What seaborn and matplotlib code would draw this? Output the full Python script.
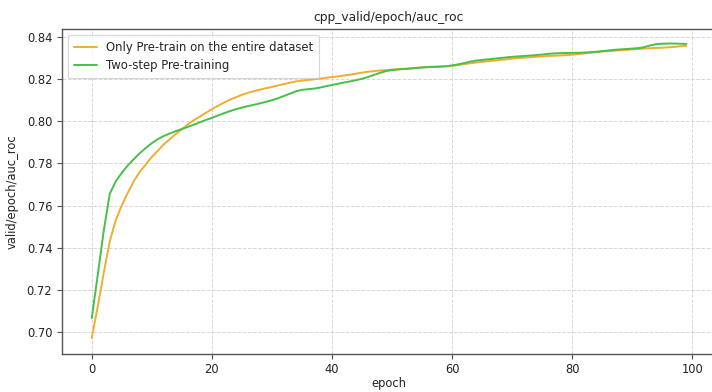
import numpy as np
import pandas as pd
import matplotlib
matplotlib.use("Agg")
import matplotlib.pyplot as plt
import seaborn as sns

# Validation AUC-ROC per epoch for the two pre-training schemes
epochs = list(range(100))

only_pretrain = [
    0.6970, 0.7120, 0.7280, 0.7430, 0.7530, 0.7600, 0.7660, 0.7715, 0.7760, 0.7795,
    0.7830, 0.7860, 0.7890, 0.7915, 0.7940, 0.7962, 0.7985, 0.8005, 0.8022, 0.8040,
    0.8057, 0.8073, 0.8088, 0.8102, 0.8114, 0.8125, 0.8135, 0.8143, 0.8150, 0.8157,
    0.8163, 0.8170, 0.8176, 0.8183, 0.8189, 0.8193, 0.8196, 0.8199, 0.8202, 0.8206,
    0.8210, 0.8213, 0.8217, 0.8221, 0.8226, 0.8231, 0.8235, 0.8238, 0.8241, 0.8243,
    0.8245, 0.8247, 0.8249, 0.8251, 0.8253, 0.8256, 0.8258, 0.8259, 0.8260, 0.8261,
    0.8263, 0.8267, 0.8271, 0.8275, 0.8279, 0.8282, 0.8285, 0.8288, 0.8291, 0.8294,
    0.8297, 0.8300, 0.8302, 0.8304, 0.8306, 0.8308, 0.8310, 0.8311, 0.8312, 0.8314,
    0.8316, 0.8319, 0.8322, 0.8325, 0.8328, 0.8331, 0.8333, 0.8335, 0.8337, 0.8339,
    0.8341, 0.8343, 0.8345, 0.8347, 0.8348, 0.8349, 0.8351, 0.8353, 0.8356, 0.8358,
]

two_step = [
    0.7065, 0.7270, 0.7480, 0.7655, 0.7715, 0.7755, 0.7790, 0.7820, 0.7848, 0.7873,
    0.7896, 0.7915, 0.7930, 0.7942, 0.7953, 0.7963, 0.7973, 0.7984, 0.7995, 0.8006,
    0.8016, 0.8027, 0.8038, 0.8048, 0.8057, 0.8065, 0.8072, 0.8078, 0.8085, 0.8092,
    0.8100, 0.8109, 0.8120, 0.8131, 0.8142, 0.8149, 0.8152, 0.8155, 0.8160, 0.8166,
    0.8172, 0.8178, 0.8184, 0.8189, 0.8195, 0.8202, 0.8210, 0.8220, 0.8230, 0.8238,
    0.8243, 0.8246, 0.8248, 0.8250, 0.8253, 0.8255, 0.8257, 0.8258, 0.8259, 0.8261,
    0.8265, 0.8270, 0.8276, 0.8283, 0.8288, 0.8291, 0.8294, 0.8297, 0.8300, 0.8303,
    0.8306, 0.8308, 0.8310, 0.8312, 0.8314, 0.8317, 0.8320, 0.8322, 0.8323, 0.8324,
    0.8325, 0.8325, 0.8326, 0.8328, 0.8330, 0.8333, 0.8336, 0.8339, 0.8341, 0.8343,
    0.8345, 0.8347, 0.8352, 0.8360, 0.8366, 0.8368, 0.8369, 0.8369, 0.8368, 0.8367,
]

series_names = ["Only Pre-train on the entire dataset", "Two-step Pre-training"]
series_colors = ["#f0ad32", "#48bf48"]

df = pd.DataFrame({
    "epoch": epochs * 2,
    "value": only_pretrain + two_step,
    "run": [series_names[0]] * len(epochs) + [series_names[1]] * len(epochs),
})

sns.set_style("white")
plt.rcParams["font.family"] = ["DejaVu Sans"]

fig = plt.figure(figsize=(7.12, 3.92), dpi=100)
# the plotting area runs slightly past the right edge of the canvas
ax = fig.add_axes([62 / 712, 38 / 392, 654 / 712, 325 / 392])

sns.lineplot(data=df, x="epoch", y="value", hue="run",
             palette=dict(zip(series_names, series_colors)),
             linewidth=1.4, ax=ax)

ax.set_xlim(-4.95, 103.95)
ax.set_ylim(0.6895, 0.8438)
ax.set_xticks([0, 20, 40, 60, 80, 100])
ax.set_yticks([0.70, 0.72, 0.74, 0.76, 0.78, 0.80, 0.82, 0.84])
ax.set_yticklabels([f"{v:.2f}" for v in ax.get_yticks()])

ax.grid(True, linestyle="--", color="#cccccc", linewidth=0.7, alpha=0.8)
for side in ["left", "bottom", "top"]:
    ax.spines[side].set_color("#555555")
    ax.spines[side].set_linewidth(1.0)
ax.spines["right"].set_visible(False)

ax.tick_params(axis="both", which="major", labelsize=8.3, length=3.5,
               width=0.8, color="#555555", labelcolor="#222222",
               left=True, bottom=True)
ax.tick_params(axis="x", pad=3)

ax.set_title("cpp_valid/epoch/auc_roc", fontsize=8.8, color="#222222", pad=6)
ax.set_xlabel("epoch", fontsize=8.3, color="#222222", labelpad=1)
ax.set_ylabel("valid/epoch/auc_roc", fontsize=8.3, color="#222222", labelpad=6)

leg = ax.legend(loc="upper left", fontsize=8.4, frameon=True,
                borderpad=0.5, handlelength=2.0, labelspacing=0.5)
leg.set_title(None)
leg.get_frame().set_edgecolor("#cccccc")
leg.get_frame().set_linewidth(0.8)

fig.savefig("out.png", dpi=100)
